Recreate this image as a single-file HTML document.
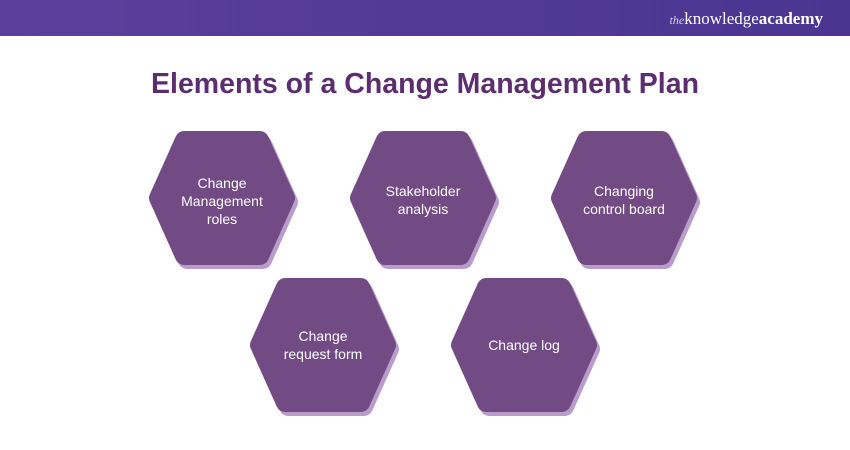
<!DOCTYPE html>
<html><head><meta charset="utf-8"><style>
html,body{margin:0;padding:0;width:850px;height:450px;overflow:hidden;background:#fff;font-family:"Liberation Sans",sans-serif}
</style></head><body>
<svg width="850" height="450" viewBox="0 0 850 450" xmlns="http://www.w3.org/2000/svg">
<defs>
<linearGradient id="g" x1="0" x2="1"><stop offset="0" stop-color="#5b3f9c"/><stop offset="1" stop-color="#4b3591"/></linearGradient>
<polygon id="h" points="-38,-58 38,-58 64,0 38,58 -38,58 -64,0"/>
</defs>
<rect x="0" y="0" width="850" height="36" fill="url(#g)"/>
<text x="823" y="24" text-anchor="end" font-family="Liberation Serif,serif" font-size="17" fill="#fff"><tspan font-style="italic" font-size="12" fill="#d8d0f0">the</tspan>knowledge<tspan font-weight="bold">academy</tspan></text>
<text x="425" y="93" text-anchor="middle" font-size="28.5" font-weight="bold" fill="#5c2e6f">Elements of a Change Management Plan</text>
<g fill="#ffffff" font-size="14" text-anchor="middle">
<g transform="translate(222,198)"><use href="#h" transform="translate(3,4)" fill="#b89ccb" stroke="#b89ccb" stroke-width="18" stroke-linejoin="round"/><use href="#h" fill="#724a84" stroke="#724a84" stroke-width="18" stroke-linejoin="round"/><text y="-10">Change</text><text y="8">Management</text><text y="26">roles</text></g>
<g transform="translate(423,198)"><use href="#h" transform="translate(3,4)" fill="#b89ccb" stroke="#b89ccb" stroke-width="18" stroke-linejoin="round"/><use href="#h" fill="#724a84" stroke="#724a84" stroke-width="18" stroke-linejoin="round"/><text y="-2">Stakeholder</text><text y="16">analysis</text></g>
<g transform="translate(624,198)"><use href="#h" transform="translate(3,4)" fill="#b89ccb" stroke="#b89ccb" stroke-width="18" stroke-linejoin="round"/><use href="#h" fill="#724a84" stroke="#724a84" stroke-width="18" stroke-linejoin="round"/><text y="-2">Changing</text><text y="16">control board</text></g>
<g transform="translate(323,345)"><use href="#h" transform="translate(3,4)" fill="#b89ccb" stroke="#b89ccb" stroke-width="18" stroke-linejoin="round"/><use href="#h" fill="#724a84" stroke="#724a84" stroke-width="18" stroke-linejoin="round"/><text y="-4">Change</text><text y="14">request form</text></g>
<g transform="translate(524,345)"><use href="#h" transform="translate(3,4)" fill="#b89ccb" stroke="#b89ccb" stroke-width="18" stroke-linejoin="round"/><use href="#h" fill="#724a84" stroke="#724a84" stroke-width="18" stroke-linejoin="round"/><text y="5">Change log</text></g>
</g>
</svg>
</body></html>
